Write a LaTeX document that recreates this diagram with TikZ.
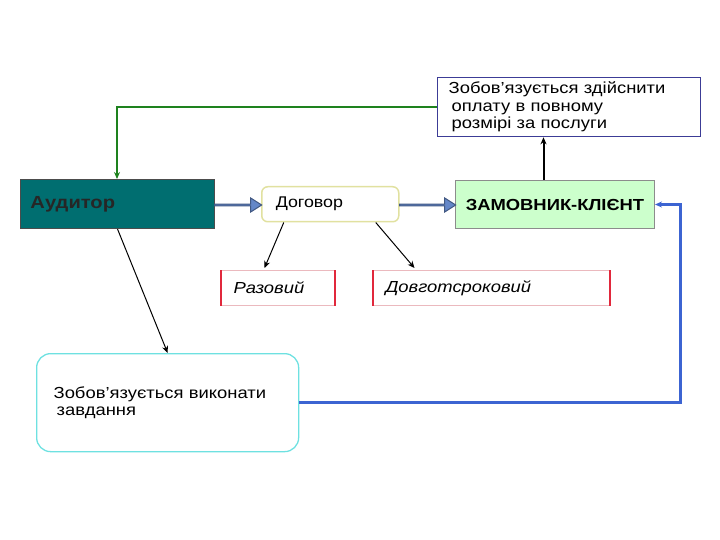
\documentclass[tikz,border=0pt]{standalone}
\usepackage{fontspec}
\setmainfont{Liberation Sans}[FakeStretch=1.15]
\usetikzlibrary{shapes.arrows,arrows.meta}
\definecolor{tealfill}{RGB}{0,110,112}
\definecolor{lightgreen}{RGB}{204,255,204}
\definecolor{navyline}{RGB}{60,60,150}
\definecolor{greenline}{RGB}{30,130,30}
\definecolor{blueline}{RGB}{60,100,210}
\definecolor{steelarrow}{RGB}{100,135,200}
\definecolor{redside}{RGB}{225,40,60}
\definecolor{pinkedge}{RGB}{235,185,190}
\definecolor{cyanedge}{RGB}{110,225,225}
\definecolor{yellowedge}{RGB}{225,225,160}

\begin{document}
\begin{tikzpicture}[x=1pt, y=-1pt,
    every node/.style={font=\fontsize{16}{17.5}\selectfont, align=left, anchor=north west},
    pay_box/.style={draw=navyline, line width=1.3pt, fill=white, inner xsep=11pt, text width=241pt, minimum height=59pt},
    auditor_box/.style={draw=black!70, line width=1pt, fill=tealfill, inner xsep=10pt, text width=174pt, minimum height=49pt, font=\fontsize{17.5}{20}\selectfont\bfseries, text=black!85},
    contract_box/.style={draw=yellowedge, line width=1.5pt, rounded corners=6pt, inner xsep=14pt, text width=109pt, minimum height=35pt, font=\fontsize{15.5}{18}\selectfont},
    client_box/.style={draw=black!45, line width=1pt, fill=lightgreen, inner xsep=4pt, text width=191pt, minimum height=48pt, align=center, font=\fontsize{16}{18}\selectfont\bfseries},
    term_box/.style={draw=pinkedge, line width=1pt, inner xsep=12pt, minimum height=35pt, font=\fontsize{16}{18}\selectfont\itshape},
    task_box/.style={draw=cyanedge, line width=1.3pt, rounded corners=14pt, inner xsep=17pt, text width=228pt, minimum height=98pt},
    fat_arrow/.style={single arrow, draw=steelarrow!65!black, line width=1pt, fill=steelarrow, minimum width=14pt, single arrow head extend=3.5pt, single arrow tip angle=65, inner sep=0pt, anchor=center},
    directed/.style={-{Stealth[length=7pt,width=6pt]}}
]
    \useasboundingbox (0,0) rectangle (720,540);

    \node[pay_box] (pay) at (437,77) {Зобов’язується здійснити\\\hspace*{3pt}оплату в повному\\\hspace*{3pt}розмірі за послуги};
    \node[auditor_box] (auditor) at (20,179) {Аудитор};
    \node[contract_box] (contract) at (261,186) {Договор};
    \node[client_box] (client) at (455,180) {ЗАМОВНИК-КЛІЄНТ};
    \node[term_box, text width=89pt] (single) at (221,270) {Разовий};
    \node[term_box, text width=212pt] (longterm) at (373,270) {Довготсроковий};
    \node[task_box] (task) at (36,353) {Зобов'язується виконати\\\hspace*{3pt}завдання};

    % red sides of the term boxes
    \draw[redside, line width=1.5pt] (single.north west) -- (single.south west) (single.north east) -- (single.south east);
    \draw[redside, line width=1.5pt] (longterm.north west) -- (longterm.south west) (longterm.north east) -- (longterm.south east);

    % block arrows
    \node[fat_arrow, minimum height=47pt] (arr_a) at (237.5,205) {};
    \node[fat_arrow, minimum height=56pt] (arr_b) at (427,205) {};

    \draw[directed, greenline, line width=2pt] (pay.west) -| ([xshift=97pt]auditor.north west);
    \draw[directed, line width=2pt] ([xshift=-11.5pt]client.north) -- ([xshift=-11.5pt]client.north |- pay.south);
    \draw[directed, blueline, line width=3pt] (task.east) -| ([xshift=25pt]client.east) -- (client.east);
    \draw[directed, line width=1pt] ([xshift=-46.5pt]contract.south) -- ([xshift=-13.5pt, yshift=2pt]single.north);
    \draw[directed, line width=1pt] ([xshift=45.5pt]contract.south) -- ([xshift=-77pt, yshift=2pt]longterm.north);
    \draw[directed, line width=1pt] (auditor.south) -- (task.north);
\end{tikzpicture}
\end{document}
